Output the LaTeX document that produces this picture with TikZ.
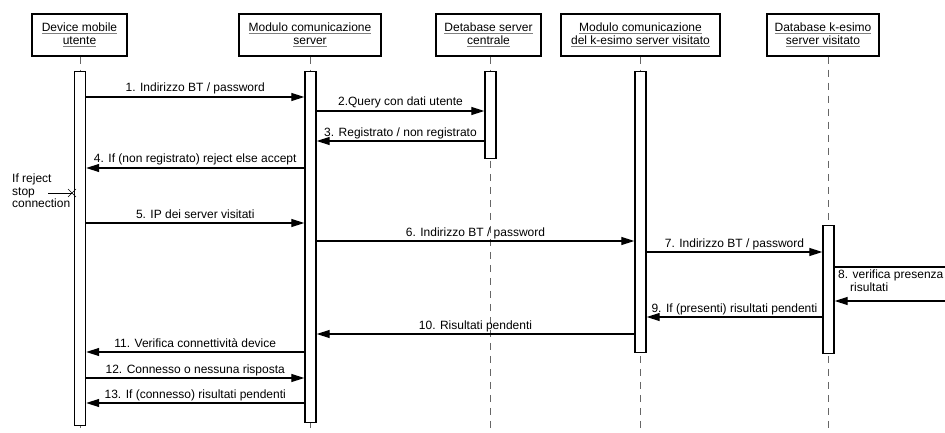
\documentclass[tikz,border=0pt]{standalone}
\usepackage{fontspec}
\setmainfont{Liberation Sans}
\usetikzlibrary{arrows.meta}
% gray underline used for the participant names
\newcommand\undl[1]{\setbox0\hbox{#1}\leavevmode\rlap{\color{gray}\rule[-2.5pt]{\wd0}{0.9pt}}\box0}
\begin{document}
\begin{tikzpicture}[x=1pt,y=-1pt,
  every node/.style={font=\fontsize{12}{13}\selectfont},
  actor/.style={draw, line width=1.5pt, minimum height=42pt, align=center, inner sep=0pt},
  bar/.style={draw, fill=white, line width=1.4pt, minimum width=11pt, inner sep=0pt, anchor=north},
  life/.style={draw=black!60, dash pattern=on 7pt off 6pt, line width=0.8pt},
  msg/.style={line width=1.2pt, -{Triangle[length=13pt,width=8pt]}},
  lbl/.style={anchor=base, yshift=5pt, inner sep=0pt}
]
\useasboundingbox (0,0) rectangle (945,433);
\clip (0,0) rectangle (945,433);

% participants
\node[actor, minimum width=95pt]  (b1) at (79.5,35) {\undl{Device mobile}\\\undl{utente}};
\node[actor, minimum width=142pt] (b2) at (310,35)  {\undl{Modulo comunicazione}\\\undl{server}};
\node[actor, minimum width=105pt] (b3) at (488.5,35) {\undl{Detabase server}\\\undl{centrale}};
\node[actor, minimum width=159pt] (b4) at (640.5,35) {\undl{Modulo comunicazione}\\\undl{del k-esimo server visitato}};
\node[actor, minimum width=112pt] (b5) at (823,35)  {\undl{Database k-esimo}\\\undl{server visitato}};

\coordinate (bottom) at (0,433);
\coordinate (x1) at (80,0);
\coordinate (x2) at (310.5,0);
\coordinate (x3) at (490.5,0);
\coordinate (x4) at (640.5,0);
\coordinate (x5) at (828.5,0);

% lifelines
\draw[life] (b1.south -| x1) -- (bottom -| x1);
\draw[life] (b2.south -| x2) -- (bottom -| x2);
\draw[life] (b3.south -| x3) -- (bottom -| x3);
\draw[life] (b4.south -| x4) -- (bottom -| x4);
\draw[life] (b5.south -| x5) -- (bottom -| x5);

% activation bars
\node[bar, minimum height=354pt] (a1) at (80,71) {};
\node[bar, minimum height=351pt] (a2) at (310.5,71) {};
\node[bar, minimum height=87pt]  (a3) at (490.5,71) {};
\node[bar, minimum height=281pt] (a4) at (640.5,71) {};
\node[bar, minimum height=128pt] (a5) at (828.5,225) {};

% message rows
\coordinate (m1) at (0,97);
\coordinate (m2) at (0,111);
\coordinate (m3) at (0,141);
\coordinate (m4) at (0,168);
\coordinate (m5) at (0,223);
\coordinate (m6) at (0,241);
\coordinate (m7) at (0,252);
\coordinate (m8a) at (0,267);
\coordinate (m8b) at (0,301);
\coordinate (m9) at (0,317);
\coordinate (m10) at (0,334);
\coordinate (m11) at (0,352);
\coordinate (m12) at (0,378);
\coordinate (m13) at (0,403);
\coordinate (edge) at (952,0);

\draw[msg] (a1.east |- m1) -- node[lbl] {1. Indirizzo BT / password} (a2.west |- m1);
\draw[msg] (a2.east |- m2) -- node[lbl] {2.Query con dati utente} (a3.west |- m2);
\draw[msg] (a3.west |- m3) -- node[lbl] {3. Registrato / non registrato} (a2.east |- m3);
\draw[msg] (a2.west |- m4) -- node[lbl] {4. If (non registrato) reject else accept} (a1.east |- m4);
\draw[msg] (a1.east |- m5) -- node[lbl] {5. IP dei server visitati} (a2.west |- m5);
\draw[msg] (a2.east |- m6) -- node[lbl] {6. Indirizzo BT / password} (a4.west |- m6);
\draw[msg] (a4.east |- m7) -- node[lbl] {7. Indirizzo BT / password} (a5.west |- m7);
\draw[msg] (a5.east |- m8a) -- (edge |- m8a) -- (edge |- m8b) -- (a5.east |- m8b);
\node[anchor=north west, align=left, inner sep=0pt, font=\fontsize{12}{13}\selectfont] (t8) at (838,270) {8. verifica presenza\\\hspace*{12pt}risultati};
\draw[msg] (a5.west |- m9) -- node[lbl] {9. If (presenti) risultati pendenti} (a4.east |- m9);
\draw[msg] (a4.west |- m10) -- node[lbl] {10. Risultati pendenti} (a2.east |- m10);
\draw[msg] (a2.west |- m11) -- node[lbl] {11. Verifica connettività device} (a1.east |- m11);
\draw[msg] (a1.east |- m12) -- node[lbl] {12. Connesso o nessuna risposta} (a2.west |- m12);
\draw[msg] (a2.west |- m13) -- node[lbl] {13. If (connesso) risultati pendenti} (a1.east |- m13);

% stopped connection note
\node[anchor=north west, align=left, inner sep=0pt, font=\fontsize{12}{12.5}\selectfont] (rej) at (12,174) {If reject\\stop\\connection};
\coordinate (xm) at (72,193);
\draw[line width=1pt] (48,193) -- (xm);
\draw[line width=0.7pt] ([shift={(-4,-4)}]xm) -- ([shift={(4,4)}]xm) ([shift={(-4,4)}]xm) -- ([shift={(4,-4)}]xm);
\end{tikzpicture}
\end{document}
